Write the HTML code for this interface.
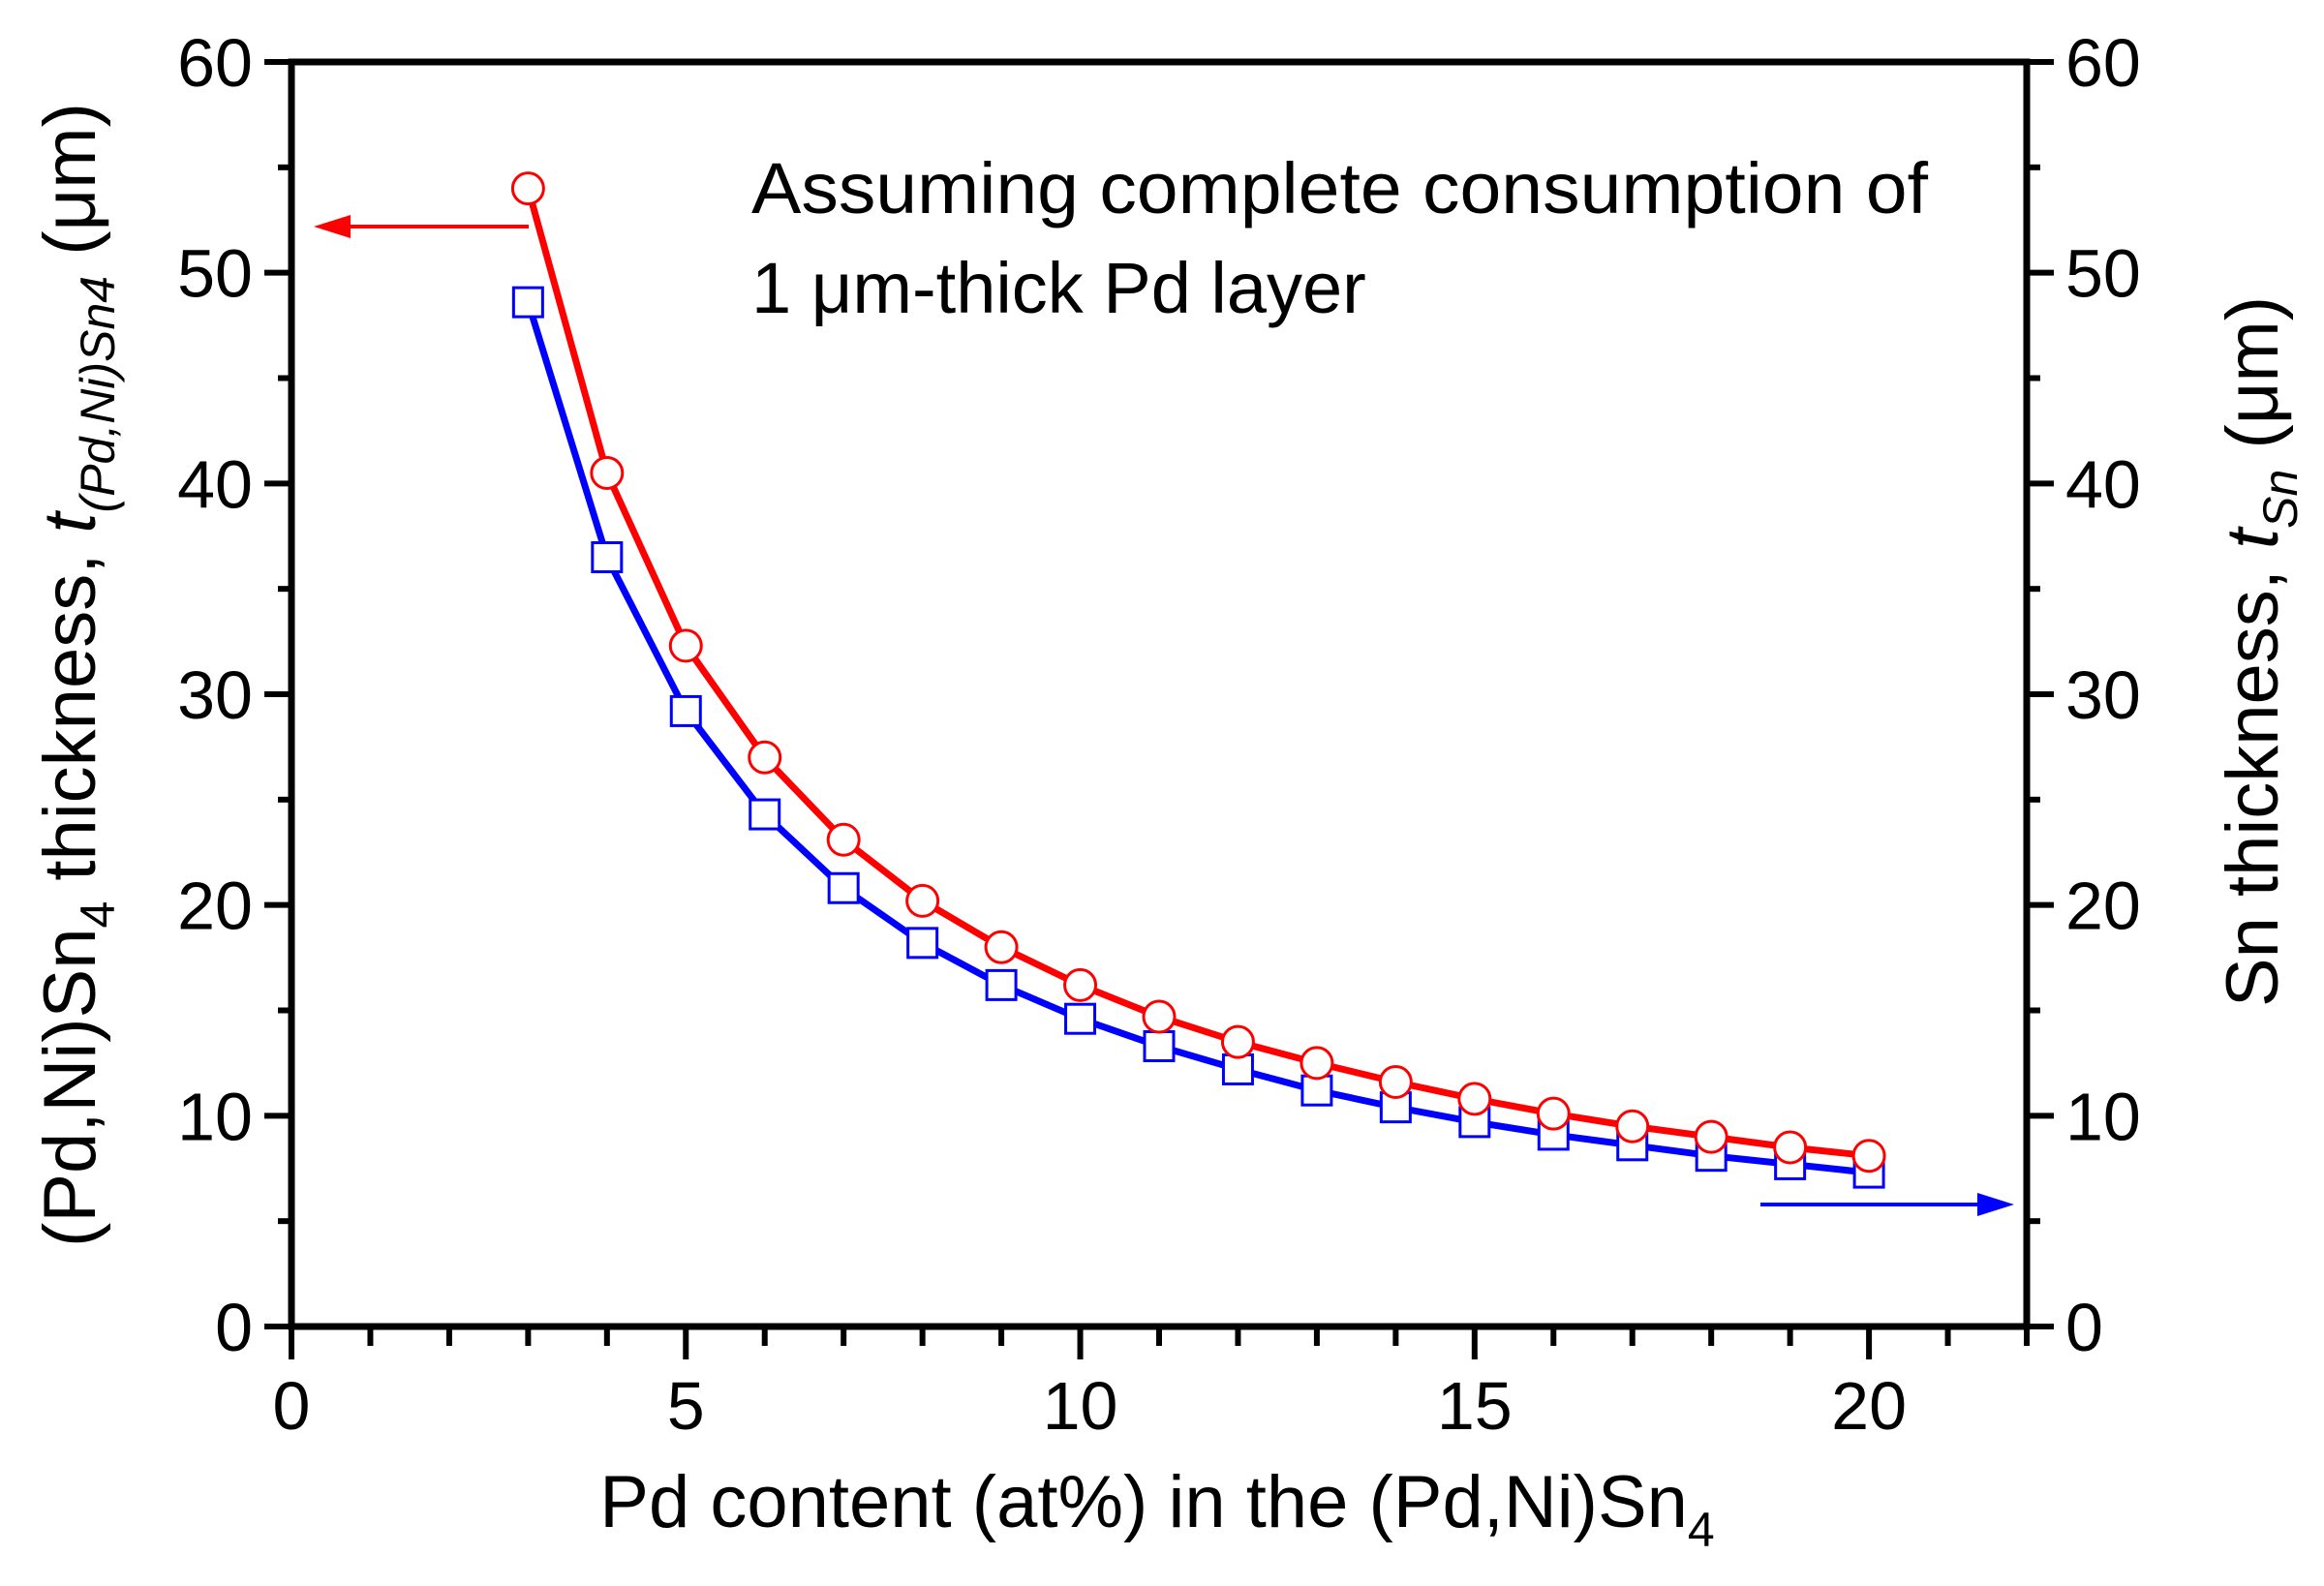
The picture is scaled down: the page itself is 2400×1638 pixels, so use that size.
<!DOCTYPE html>
<html><head><meta charset="utf-8"><style>
html,body{margin:0;padding:0;background:#fff;}
svg{display:block;font-family:"Liberation Sans",Arial,sans-serif;}
</style></head><body>
<svg id="chart" width="2400" height="1638" viewBox="0 0 2400 1638">
<g id="axes"></g>
<g id="series"></g>
<text x="776" y="220" font-size="74" textLength="1215" lengthAdjust="spacingAndGlyphs">Assuming complete consumption of</text>
<text x="776" y="323" font-size="74">1 μm-thick Pd layer</text>
<text x="1195" y="1577" font-size="76" text-anchor="middle">Pd content (at%) in the (Pd,Ni)Sn<tspan font-size="50" dy="20">4</tspan></text>
<text transform="translate(98,697) rotate(-90)" font-size="76" text-anchor="middle">(Pd,Ni)Sn<tspan font-size="50" dy="20">4</tspan><tspan dy="-20"> thickness, </tspan><tspan font-style="italic">t</tspan><tspan font-size="50" font-style="italic" dy="20">(Pd,Ni)Sn4</tspan><tspan dy="-20">  (μm)</tspan></text>
<text transform="translate(2352,673) rotate(-90)" font-size="76" text-anchor="middle">Sn thickness, <tspan font-style="italic">t</tspan><tspan font-size="50" font-style="italic" dy="20">Sn</tspan><tspan dy="-20">  (μm)</tspan></text>
</svg>
<script>
const xValues=[3,4,5,6,7,8,9,10,11,12,13,14,15,16,17,18,19,20];
const imcThickness=[54,40.5,32.3,27,23.1,20.2,18,16.2,14.7,13.5,12.5,11.6,10.8,10.1,9.5,9.0,8.5,8.1];
const snThickness=[48.6,36.5,29.2,24.3,20.8,18.2,16.2,14.6,13.3,12.2,11.2,10.4,9.7,9.1,8.6,8.1,7.7,7.3];
const xTicks=[0,5,10,15,20];
const yTicks=[0,10,20,30,40,50,60];
const NS="http://www.w3.org/2000/svg";
const X0=301,X1=2093,Y0=1370,Y1=64,XMAX=22,YMAX=60;
function sx(v){return X0+(X1-X0)*v/XMAX;}
function sy(v){return Y0-(Y0-Y1)*v/YMAX;}
function mk(tag,attrs,parent){const e=document.createElementNS(NS,tag);for(const k in attrs)e.setAttribute(k,attrs[k]);parent.appendChild(e);return e;}
const axes=document.getElementById('axes'),ser=document.getElementById('series');
let f=mk('rect',{x:X0,y:Y1,width:X1-X0,height:Y0-Y1,fill:'none',stroke:'#000','stroke-width':7},axes);


for(let v=0;v<=22;v++){
  const major=v%5===0;
  const t=mk('line',{x1:sx(v),x2:sx(v),y1:Y0,y2:Y0+(major?34:20),stroke:'#000','stroke-width':6},axes);
  
  
}
xTicks.forEach(v=>{
  const t=mk('text',{x:sx(v),y:1476,'font-size':70,'text-anchor':'middle'},axes);t.textContent=v;
  
  
});
for(let v=0;v<=60;v+=5){
  const major=v%10===0;
  const l=mk('line',{x1:X0-(major?28:14),x2:X0,y1:sy(v),y2:sy(v),stroke:'#000','stroke-width':6},axes);
  
  
  const r=mk('line',{x1:X1,x2:X1+(major?28:14),y1:sy(v),y2:sy(v),stroke:'#000','stroke-width':6},axes);
  
  
}
yTicks.forEach(v=>{
  const a=mk('text',{x:X0-40,y:sy(v)+25,'font-size':70,'text-anchor':'end'},axes);a.textContent=v;
  
  
  const b=mk('text',{x:X1+40,y:sy(v)+25,'font-size':70},axes);b.textContent=v;
  
  
});
function series(vals,color,shape,name){
  const p=mk('polyline',{points:xValues.map((x,i)=>sx(x)+','+sy(vals[i])).join(' '),fill:'none',stroke:color,'stroke-width':7},ser);
  
  
  xValues.forEach((x,i)=>{
    let m;
    if(shape==='circle')m=mk('circle',{cx:sx(x),cy:sy(vals[i]),r:16,fill:'#fff',stroke:color,'stroke-width':3},ser);
    else m=mk('rect',{x:sx(x)-15,y:sy(vals[i])-15,width:30,height:30,fill:'#fff',stroke:color,'stroke-width':3},ser);
    
    
  });
}
series(snThickness,'#0000ff','square','sn-thickness');
series(imcThickness,'#ff0000','circle','imc-thickness');
let a1=mk('line',{x1:546,y1:234,x2:345,y2:234,stroke:'#ff0000','stroke-width':4},ser);


let h1=mk('polygon',{points:'324,234 362,222 362,246',fill:'#ff0000'},ser);


let a2=mk('line',{x1:1818,y1:1244,x2:2055,y2:1244,stroke:'#0000ff','stroke-width':4},ser);


let h2=mk('polygon',{points:'2080,1244 2042,1232 2042,1256',fill:'#0000ff'},ser);


</script>
</body></html>
